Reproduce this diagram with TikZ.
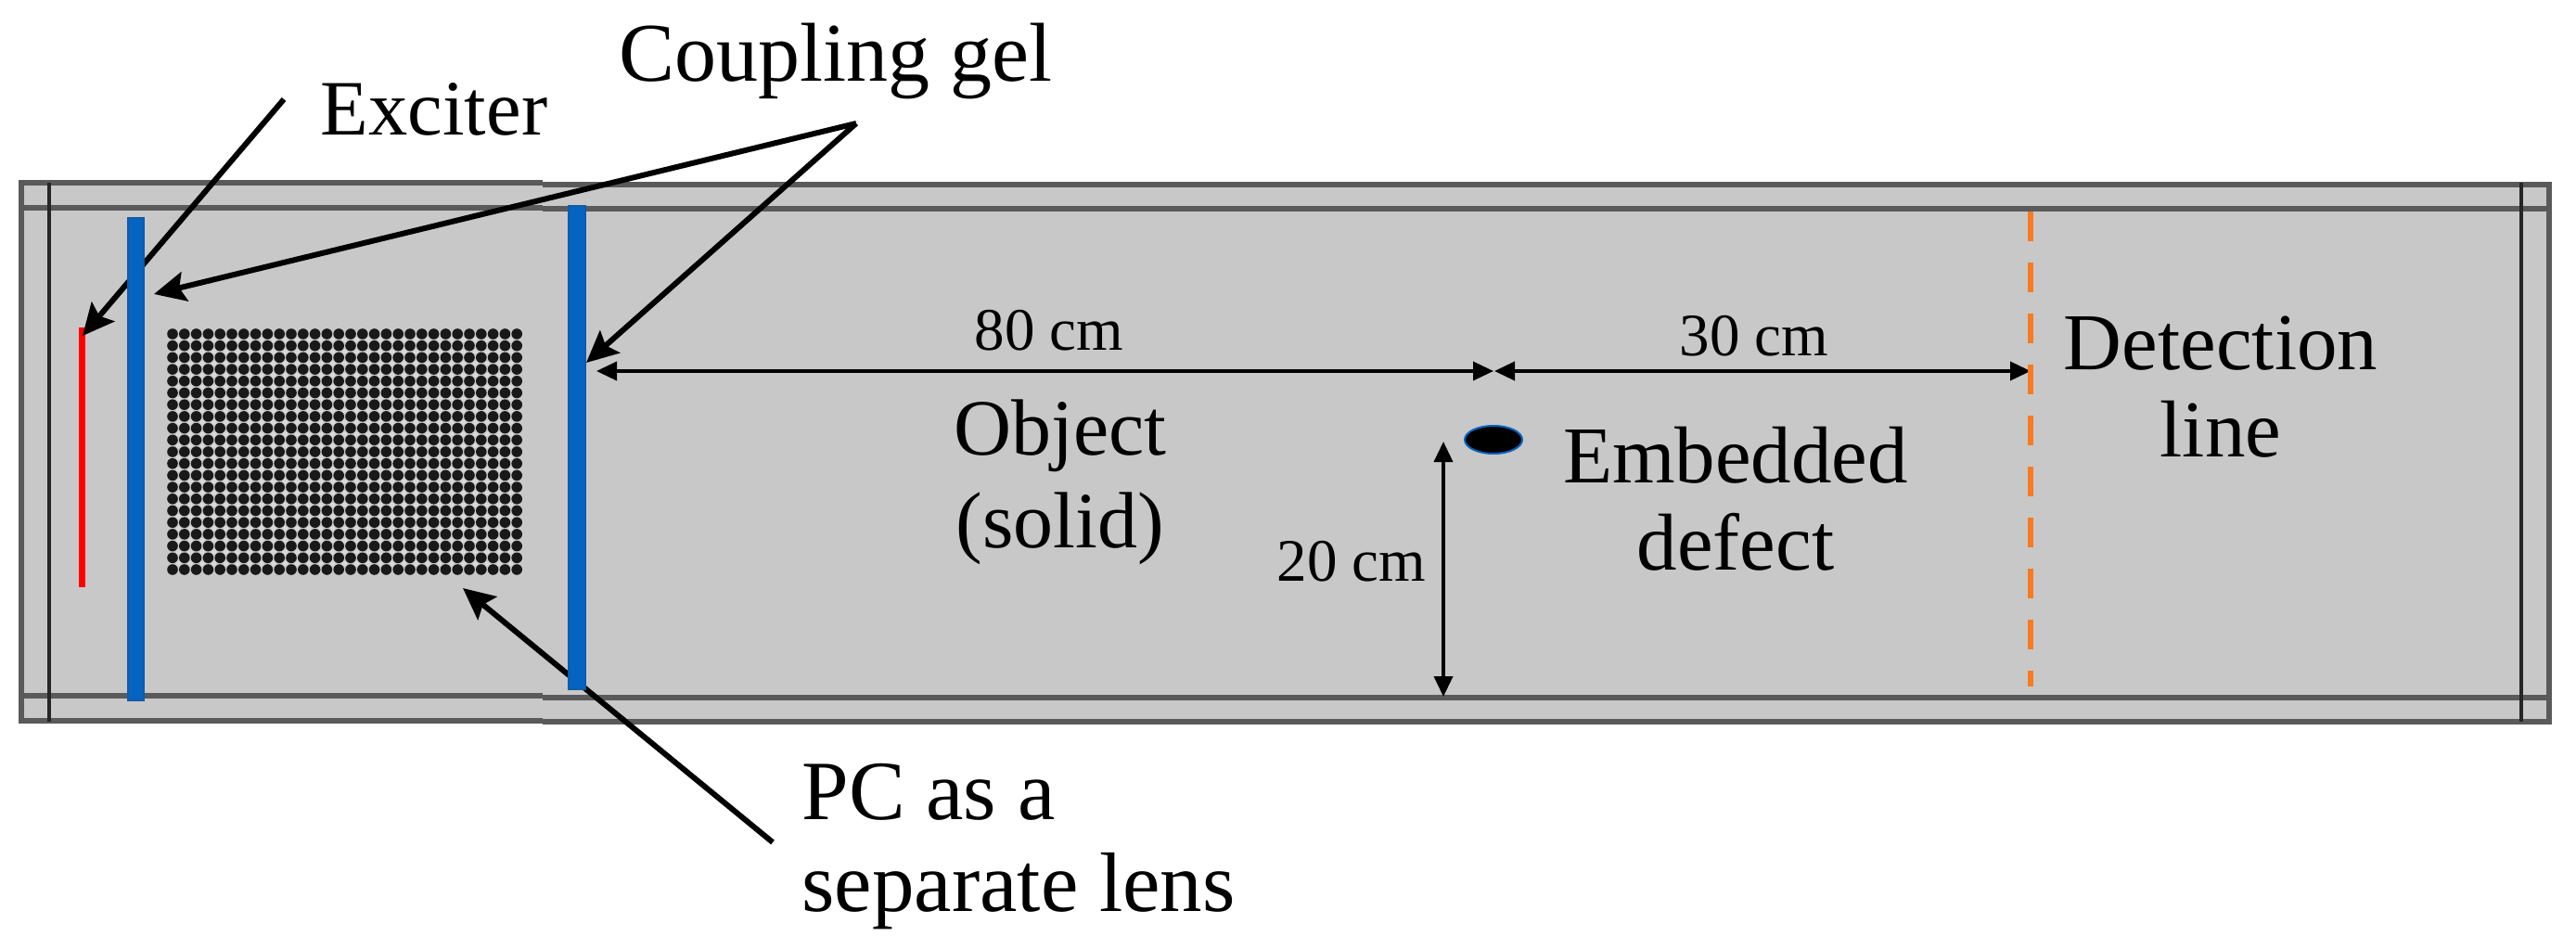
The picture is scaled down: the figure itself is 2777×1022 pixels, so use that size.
\documentclass[tikz,border=0pt]{standalone}
\usepackage{fontspec}
\setmainfont{Liberation Serif}
\usetikzlibrary{arrows.meta}
\definecolor{boxgrey}{HTML}{C8C8C8}
\definecolor{framegrey}{HTML}{5A5A5A}
\definecolor{gelblue}{HTML}{0563C1}
\definecolor{geledge}{HTML}{0F5CA8}
\definecolor{dashorange}{HTML}{F97A1F}
\tikzset{
  frameline/.style={draw=framegrey,line width=3pt},
  crossline/.style={draw=black!85,line width=2pt},
  gelbar/.style={fill=gelblue,draw=geledge,line width=1pt},
  leader/.style={draw=black,line width=3pt,-{Stealth[length=17pt,width=16pt,inset=3pt]}},
  dimline/.style={draw=black,line width=1.8pt,{Stealth[length=11pt,width=10pt,inset=0pt]}-{Stealth[length=11pt,width=10pt,inset=0pt]}},
  biglabel/.style={inner sep=0pt,align=center,anchor=base},
  smalllabel/.style={inner sep=0pt,font=\fontsize{32.5}{36}\selectfont,anchor=base}
}
\begin{document}
\begin{tikzpicture}[x=0.5pt,y=-0.5pt]
\useasboundingbox (0,0) rectangle (2777,1022);
% object body
\fill[boxgrey] (23,197) rectangle (2748,779);
\draw[frameline] (585,199) -- (2748,199) -- (2748,778) -- (585,778);
\draw[frameline] (585,197) -- (23,197) -- (23,777) -- (585,777);
\draw[frameline] (585,225) -- (2748,225);
\draw[frameline] (23,224) -- (585,224);
\draw[frameline] (585,752) -- (2748,752);
\draw[frameline] (23,750) -- (585,750);
\draw[crossline] (53,197) -- (53,778);
\draw[crossline] (2718,197) -- (2718,778);
% phononic crystal lattice
\foreach \i in {0,...,29}{\foreach \j in {0,...,20}{
  \fill[black!90] ({186+\i*12.8},{360+\j*12.7}) circle[radius=5.8];
}}
\foreach \i in {0,...,28}{\foreach \j in {0,...,19}{
  \fill[white!85!black] ({192.4+\i*12.8},{366.35+\j*12.7}) circle[radius=2.6];
}}
% labels
\node[biglabel,font=\fontsize{42.3}{47}\selectfont] (exciter) at (468,146) {Exciter};
\node[biglabel,font=\fontsize{45}{50}\selectfont] (gel) at (901,88) {Coupling gel};
\node[biglabel,font=\fontsize{43}{50}\selectfont] (object) at (1143,590) {Object\\(solid)};
\node[biglabel,font=\fontsize{43.5}{47}\selectfont] (defectlabel) at (1871,614) {Embedded\\defect};
\node[biglabel,font=\fontsize{43.5}{47}\selectfont] (detect) at (2394,492) {Detection\\line};
\node[biglabel,align=left,anchor=base west,font=\fontsize{45.5}{49.5}\selectfont] (pclabel) at (864,982) {PC as a\\separate lens};
\node[smalllabel] (d80) at (1131,377) {80 cm};
\node[smalllabel] (d30) at (1891,383) {30 cm};
\node[smalllabel] (d20) at (1457,626) {20 cm};
% anchor points
\coordinate (exTail) at (306,107);
\coordinate (exTip) at (89,362);
\coordinate (gelTail) at (923,133);
\coordinate (gelTipA) at (166,317);
\coordinate (gelTipB) at (632,391);
\coordinate (pcTail) at (833,908);
\coordinate (pcTip) at (499,634);
\coordinate (d80L) at (643,400);
\coordinate (dMidL) at (1610,400);
\coordinate (dMidR) at (1611,400);
\coordinate (d30R) at (2189,400);
\coordinate (d20T) at (1556,476);
\coordinate (d20B) at (1556,751);
% exciter
\draw[red,line width=3.8pt] (88.5,353) -- (88.5,633);
% leaders passing behind the bars
\draw[leader] (exTail) -- (exTip);
\draw[leader] (pcTail) -- (pcTip);
% gel bars
\draw[gelbar] (138,235) rectangle (155,755);
\draw[gelbar] (613,222) rectangle (631,743);
% leaders over the bars
\draw[leader] (gelTail) -- (gelTipA);
\draw[leader] (gelTail) -- (gelTipB);
% dimension lines
\draw[dimline] (d80L) -- (dMidL);
\draw[dimline] (dMidR) -- (d30R);
\draw[dimline] (d20T) -- (d20B);
% defect
\draw[fill=black,draw=gelblue,line width=1pt] (1610,474) ellipse[x radius=31,y radius=15];
% detection line
\draw[dashorange,line width=3pt,dash pattern=on 16pt off 11.5pt] (2189,228) -- (2189,740);
\end{tikzpicture}
\end{document}
